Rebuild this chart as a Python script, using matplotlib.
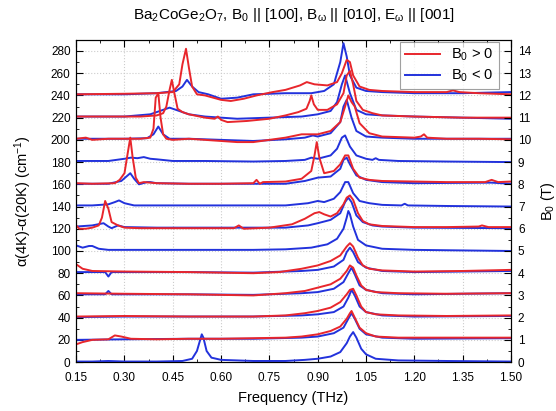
import matplotlib
matplotlib.use("Agg")
import matplotlib.pyplot as plt
from matplotlib.ticker import MultipleLocator, FormatStrFormatter

plt.rcParams['font.family'] = ['Liberation Sans', 'DejaVu Sans']
plt.rcParams['mathtext.fontset'] = 'custom'
plt.rcParams['mathtext.rm'] = 'Liberation Sans'
plt.rcParams['mathtext.it'] = 'Liberation Sans'

RED = '#e8262c'
BLUE = '#2232dc'

# field values (T), curve offset = 20 * B
B_RED = [1, 2, 3, 4, 6, 8, 10, 11, 12]
B_BLUE = [0, 1, 2, 3, 4, 5, 6, 7, 8, 9, 10, 11, 12]

# ---- B0 < 0 (blue) ----
f_b0 = [0.15, 0.2, 0.25, 0.3, 0.4, 0.48, 0.51, 0.525, 0.535, 0.54, 0.545, 0.555, 0.57, 0.6, 0.7, 0.8, 0.86, 0.9, 0.94, 0.97, 0.99, 1.0, 1.01, 1.02, 1.035, 1.05, 1.08, 1.15, 1.3, 1.5]
a_b0 = [0.5, 0.5, 1.0, 0.5, 0.5, 1.0, 3, 10, 20, 25, 22, 10, 4, 2, 1, 1, 2, 3, 5, 9, 17, 23, 27, 22, 12, 7, 3, 1.5, 1, 0.5]
f_b1 = [0.15, 0.3, 0.5, 0.7, 0.85, 0.9, 0.95, 0.98, 0.995, 1.005, 1.015, 1.03, 1.05, 1.1, 1.2, 1.5]
a_b1 = [0, 0.5, 1, 1, 2, 3, 6, 11, 19, 24, 19, 10, 5, 2, 1, 1.5]
f_b2 = [0.15, 0.3, 0.5, 0.7, 0.85, 0.9, 0.95, 0.98, 0.995, 1.005, 1.015, 1.03, 1.05, 1.1, 1.2, 1.5]
a_b2 = [0.5, 1, 1, 1, 2, 3, 5, 10, 18, 25, 20, 10, 5, 2, 1, 1.5]
f_b3 = [0.15, 0.24, 0.25, 0.26, 0.3, 0.5, 0.7, 0.85, 0.9, 0.95, 0.98, 0.995, 1.005, 1.015, 1.03, 1.05, 1.1, 1.2, 1.5]
a_b3 = [1, 1, 4, 1, 1, 1, 0.5, 2, 3, 6, 12, 20, 25, 19, 9, 5, 2, 1, 2]
f_b4 = [0.15, 0.24, 0.25, 0.26, 0.3, 0.5, 0.7, 0.85, 0.9, 0.95, 0.98, 0.99, 1.0, 1.01, 1.025, 1.05, 1.1, 1.2, 1.5]
a_b4 = [1, 1, -3, 1, 1, 1, 0.5, 2, 3, 6, 12, 19, 23, 19, 10, 5, 2, 1, 2]
f_b5 = [0.15, 0.17, 0.19, 0.2, 0.22, 0.25, 0.3, 0.5, 0.7, 0.8, 0.88, 0.93, 0.96, 0.98, 0.99, 0.995, 1.0, 1.01, 1.025, 1.05, 1.1, 1.2, 1.5]
a_b5 = [5, 3, 4.5, 4.5, 2, 1, 1, 1, 1, 1.5, 3, 6, 11, 20, 30, 36, 33, 22, 10, 5, 2, 1, 0]
f_b6 = [0.15, 0.2, 0.235, 0.25, 0.26, 0.28, 0.3, 0.4, 0.6, 0.8, 0.87, 0.9, 0.94, 0.97, 0.985, 0.995, 1.005, 1.02, 1.04, 1.07, 1.1, 1.2, 1.5]
a_b6 = [2, 3, 5, 2, 0.5, 3, 1.5, 1, 1, 1, 3, 5, 8, 14, 24, 28, 24, 12, 6, 3, 2, 1, 0.5]
f_b7 = [0.15, 0.2, 0.25, 0.27, 0.283, 0.3, 0.33, 0.4, 0.6, 0.8, 0.87, 0.9, 0.92, 0.95, 0.97, 0.985, 0.995, 1.01, 1.03, 1.06, 1.1, 1.16, 1.17, 1.18, 1.3, 1.5]
a_b7 = [1, 1, 2, 4, 5.5, 3, 1, 1, 1, 1, 3, 5, 4, 7, 13, 22, 22, 12, 5, 3, 1.5, 1, 2.5, 1, 0.5, 0]
f_b8 = [0.15, 0.25, 0.29, 0.31, 0.318, 0.33, 0.345, 0.37, 0.38, 0.4, 0.5, 0.6, 0.8, 0.86, 0.9, 0.94, 0.97, 0.98, 0.99, 1.0, 1.02, 1.05, 1.1, 1.2, 1.44, 1.5]
a_b8 = [0.5, 0.5, 3, 8, 10, 5, 0, 2, 2, 1, 0.5, 0.5, 0.5, 3, 6, 7, 14, 22, 24, 18, 8, 4, 2, 1, 1.5, 0.5]
f_b9 = [0.15, 0.25, 0.3, 0.32, 0.34, 0.36, 0.38, 0.4, 0.45, 0.55, 0.7, 0.8, 0.86, 0.88, 0.9, 0.94, 0.96, 0.975, 0.985, 1.0, 1.02, 1.05, 1.07, 1.08, 1.09, 1.15, 1.3, 1.5]
a_b9 = [1, 1, 3, 4, 3.5, 4.5, 3, 2.5, 1, 1, 0.5, 1, 2, 4, 3, 6, 12, 22, 24, 14, 6, 3, 2, 3.5, 2, 1, 0.5, 0]
f_b10 = [0.15, 0.3, 0.37, 0.39, 0.405, 0.42, 0.44, 0.5, 0.6, 0.7, 0.8, 0.86, 0.885, 0.9, 0.94, 0.97, 0.98, 0.99, 1.005, 1.02, 1.05, 1.1, 1.2, 1.5]
a_b10 = [1, 1, 1.5, 5, 12, 5, 1, 1, 0, -1, 0.5, 2, 4, 3, 6, 16, 30, 36, 20, 8, 3, 2, 1, 1]
f_b11 = [0.15, 0.3, 0.38, 0.42, 0.44, 0.47, 0.5, 0.55, 0.6, 0.65, 0.75, 0.85, 0.9, 0.94, 0.96, 0.975, 0.985, 1.0, 1.02, 1.05, 1.1, 1.2, 1.35, 1.5]
a_b11 = [1, 1, 3, 7, 9, 6, 3, 1, 0, -1, 0, 1, 3, 6, 14, 30, 38, 22, 7, 3, 2, 1, 0, -1]
f_b12 = [0.15, 0.3, 0.4, 0.46, 0.48, 0.494, 0.51, 0.53, 0.56, 0.6, 0.65, 0.7, 0.8, 0.88, 0.92, 0.95, 0.97, 0.98, 0.99, 1.0, 1.02, 1.05, 1.1, 1.2, 1.35, 1.5]
a_b12 = [1, 1, 2, 4, 8, 14, 8, 3, 1, -3, -2, 1, 2, 2, 4, 10, 30, 47, 35, 18, 7, 4, 3, 2, 2, 3]

# ---- B0 > 0 (red) ----
f_r1 = [0.15, 0.17, 0.2, 0.25, 0.27, 0.29, 0.32, 0.4, 0.5, 0.6, 0.7, 0.8, 0.85, 0.9, 0.94, 0.97, 0.99, 1.0, 1.005, 1.015, 1.03, 1.05, 1.08, 1.15, 1.3, 1.5]
a_r1 = [-4, -2, 0, 0.5, 4, 3, 1, 0.5, 1, 1, 1.5, 2, 3, 5, 8, 12, 19, 24, 26, 20, 11, 6, 3, 2, 2, 2]
f_r2 = [0.15, 0.3, 0.5, 0.7, 0.8, 0.86, 0.9, 0.94, 0.97, 0.99, 1.0, 1.01, 1.02, 1.035, 1.05, 1.08, 1.15, 1.3, 1.5]
a_r2 = [1, 1.5, 1, 1, 2, 4, 6, 9, 14, 21, 25, 26, 20, 10, 5, 3, 2, 1.5, 2]
f_r3 = [0.15, 0.3, 0.5, 0.7, 0.8, 0.86, 0.9, 0.94, 0.97, 0.99, 1.0, 1.01, 1.02, 1.035, 1.05, 1.08, 1.15, 1.3, 1.5]
a_r3 = [2, 1.5, 1, 0, 2, 4, 7, 10, 15, 22, 27, 25, 18, 9, 5, 3, 2, 1.5, 2]
f_r4 = [0.15, 0.17, 0.2, 0.3, 0.5, 0.7, 0.78, 0.85, 0.9, 0.94, 0.97, 0.99, 1.0, 1.01, 1.025, 1.04, 1.06, 1.1, 1.2, 1.35, 1.5]
a_r4 = [8, 4, 2, 1.5, 1, 0, 1, 4, 7, 11, 16, 24, 27, 24, 14, 7, 4, 2.5, 1.5, 2, 3]
f_r6 = [0.15, 0.16, 0.18, 0.2, 0.22, 0.23, 0.24, 0.25, 0.26, 0.28, 0.3, 0.35, 0.5, 0.64, 0.655, 0.67, 0.75, 0.82, 0.86, 0.89, 0.905, 0.92, 0.94, 0.96, 0.98, 0.99, 1.0, 1.01, 1.025, 1.04, 1.06, 1.1, 1.2, 1.3, 1.4, 1.41, 1.43, 1.5]
a_r6 = [3, 0, 0, 1, 3, 10, 25, 18, 6, 3, 1, 0.5, 0.5, 0.5, 3, 0, 1, 4, 9, 14, 15, 13, 11, 14, 22, 28, 30, 26, 14, 7, 4, 2.5, 1.5, 1.5, 2, 3, 1.5, 1.5]
f_r8 = [0.15, 0.2, 0.27, 0.285, 0.3, 0.31, 0.318, 0.325, 0.335, 0.345, 0.36, 0.4, 0.5, 0.6, 0.7, 0.71, 0.72, 0.73, 0.8, 0.85, 0.88, 0.89, 0.897, 0.905, 0.92, 0.95, 0.97, 0.985, 0.995, 1.01, 1.03, 1.06, 1.1, 1.2, 1.3, 1.42, 1.44, 1.46, 1.5]
a_r8 = [1, 0.5, 1, 4, 10, 28, 42, 25, 6, 1, 2, 1, 0.5, 0.5, 1, 4, 0.5, 2, 2.5, 5, 12, 26, 38, 24, 10, 12, 18, 26, 26, 14, 6, 4, 3, 2.5, 2, 2, 4, 2, 2.5]
f_r10 = [0.15, 0.18, 0.2, 0.25, 0.3, 0.35, 0.38, 0.39, 0.397, 0.405, 0.412, 0.42, 0.43, 0.45, 0.5, 0.55, 0.6, 0.65, 0.7, 0.75, 0.8, 0.85, 0.9, 0.94, 0.97, 0.985, 0.995, 1.005, 1.015, 1.03, 1.06, 1.1, 1.2, 1.22, 1.23, 1.24, 1.3, 1.4, 1.5]
a_r10 = [1, 2, 0, 1, 1, 1, 2, 10, 38, 42, 20, 5, 1, 0, 1, 0, -1, -2, -2, 0, 2, 5, 5, 8, 16, 30, 40, 34, 30, 15, 6, 3, 2, 3, 5, 2, 1, 1, 0.5]
f_r11 = [0.15, 0.25, 0.35, 0.4, 0.42, 0.43, 0.44, 0.447, 0.455, 0.465, 0.48, 0.5, 0.55, 0.58, 0.59, 0.6, 0.62, 0.68, 0.75, 0.8, 0.84, 0.865, 0.875, 0.88, 0.888, 0.9, 0.93, 0.96, 0.98, 0.99, 1.0, 1.01, 1.02, 1.04, 1.07, 1.1, 1.2, 1.35, 1.5]
a_r11 = [1, 1, 1, 2, 4, 10, 25, 34, 22, 8, 5, 3, 0, -1, 1, -2, -4, -3, -1, 2, 5, 8, 15, 20, 12, 7, 7, 12, 22, 38, 42, 30, 15, 7, 4, 2, 1, 0, 0]
f_r12 = [0.15, 0.3, 0.4, 0.45, 0.47, 0.48, 0.491, 0.5, 0.51, 0.525, 0.55, 0.6, 0.63, 0.67, 0.71, 0.76, 0.8, 0.845, 0.866, 0.89, 0.93, 0.96, 0.975, 0.99, 1.0, 1.01, 1.03, 1.06, 1.1, 1.2, 1.3, 1.32, 1.34, 1.4, 1.5]
a_r12 = [1, 1.5, 2, 3, 10, 28, 42, 25, 8, 1, 0, -4, -5, -3, 0, 3, 5, 9, 12, 10, 9, 12, 20, 32, 30, 18, 8, 5, 4, 3, 3, 4.5, 3, 2, 1]

blue_curves = [(f_b0, a_b0), (f_b1, a_b1), (f_b2, a_b2), (f_b3, a_b3), (f_b4, a_b4),
               (f_b5, a_b5), (f_b6, a_b6), (f_b7, a_b7), (f_b8, a_b8), (f_b9, a_b9),
               (f_b10, a_b10), (f_b11, a_b11), (f_b12, a_b12)]
red_curves = [(f_r1, a_r1), (f_r2, a_r2), (f_r3, a_r3), (f_r4, a_r4), (f_r6, a_r6),
              (f_r8, a_r8), (f_r10, a_r10), (f_r11, a_r11), (f_r12, a_r12)]

fig = plt.figure(figsize=(5.56, 4.11), dpi=100)
ax = fig.add_axes([0.137, 0.119, 0.782, 0.784])

for b, (f, a) in zip(B_BLUE, blue_curves):
    ax.plot(f, [v + 20 * b for v in a], color=BLUE, lw=1.4, zorder=3)
for b, (f, a) in zip(B_RED, red_curves):
    ax.plot(f, [v + 20 * b for v in a], color=RED, lw=1.4, zorder=4)

# legend handles
ax.plot([], [], color=RED, lw=1.4, label=r'B$_0$ > 0')
ax.plot([], [], color=BLUE, lw=1.4, label=r'B$_0$ < 0')

ax.set_xlim(0.15, 1.50)
ax.set_ylim(0, 290)
ax.xaxis.set_major_locator(MultipleLocator(0.15))
ax.xaxis.set_minor_locator(MultipleLocator(0.075))
ax.xaxis.set_major_formatter(FormatStrFormatter('%.2f'))
ax.yaxis.set_major_locator(MultipleLocator(20))
ax.yaxis.set_minor_locator(MultipleLocator(10))
ax.tick_params(which='both', direction='in', top=True, labelsize=8.5)
ax.tick_params(axis='x', pad=7)
ax.tick_params(axis='y', pad=4)
ax.tick_params(which='major', length=5)
ax.tick_params(which='minor', length=2.5)
ax.grid(True, which='major', color='#cccccc', ls=':', lw=0.8, zorder=0)

ax.set_xlabel('Frequency (THz)', fontsize=10.5, labelpad=5)
ax.set_ylabel(r'$\alpha$(4K)-$\alpha$(20K) (cm$^{-1}$)', fontsize=10.5, labelpad=12)
ax.set_title(r'Ba$_2$CoGe$_2$O$_7$, B$_0$ || [100], B$_\omega$ || [010], E$_\omega$ || [001]',
             fontsize=11, pad=15)

ax2 = ax.twinx()
ax2.set_ylim(0, 14.5)
ax2.yaxis.set_major_locator(MultipleLocator(1))
ax2.yaxis.set_minor_locator(MultipleLocator(0.5))
ax2.tick_params(which='both', direction='in', labelsize=8.5, pad=5)
ax2.tick_params(which='major', length=5)
ax2.tick_params(which='minor', length=2.5)
ax2.set_ylabel(r'B$_0$ (T)', fontsize=10.5, labelpad=6)

leg = ax.legend(loc='upper right', bbox_to_anchor=(0.972, 0.994), borderaxespad=0,
                fontsize=10.5, handlelength=2.4, frameon=True, fancybox=False,
                borderpad=0.35, labelspacing=0.3)
leg.get_frame().set_edgecolor('#888888')
leg.get_frame().set_linewidth(0.8)
leg.set_zorder(10)

fig.savefig('out.png', dpi=100)
